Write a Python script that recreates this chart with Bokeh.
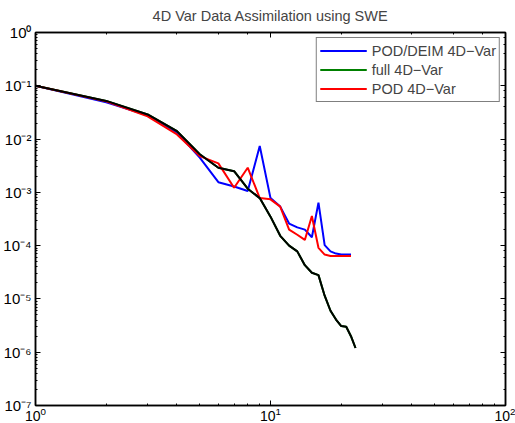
from bokeh.plotting import figure
from bokeh.models import LogAxis, Legend, LegendItem, Range1d, LogTicker, CustomJSTickFormatter
from bokeh.embed import file_html
from bokeh.resources import INLINE

x_full = list(range(1, 24))
full_4dvar = [0.1, 0.052, 0.029, 0.0141, 0.0052, 0.0029, 0.0025, 0.00117, 7.8e-4, 3.5e-4,
              1.53e-4, 1.0e-4, 7.8e-5, 4.3e-5, 3.1e-5, 2.8e-5, 1.15e-5, 6.0e-6, 4.1e-6,
              3.1e-6, 3.0e-6, 2.0e-6, 1.2e-6]

x_red = list(range(1, 23))
pod_deim = [0.1, 0.049, 0.028, 0.0132, 0.0045, 1.55e-3, 1.29e-3, 1.06e-3, 7.4e-3, 7.8e-4,
            5.4e-4, 2.6e-4, 2.2e-4, 2.0e-4, 1.44e-4, 6.4e-4, 1.02e-4, 7.8e-5, 7.1e-5,
            6.8e-5, 6.8e-5, 6.8e-5]
pod = [0.1, 0.051, 0.0267, 0.0122, 0.0048, 3.5e-3, 1.22e-3, 2.9e-3, 7.8e-4, 7.4e-4,
       5.4e-4, 2.0e-4, 1.6e-4, 1.28e-4, 3.6e-4, 9.1e-5, 6.8e-5, 6.4e-5, 6.4e-5,
       6.4e-5, 6.4e-5, 6.4e-5]

y_tick_exps = [0, -1, -2, -3, -4, -5, -6, -7]
y_tick_labels = ["10\u2070", "10\u207b\u00b9", "10\u207b\u00b2", "10\u207b\u00b3",
                 "10\u207b\u2074", "10\u207b\u2075", "10\u207b\u2076", "10\u207b\u2077"]

title = "4D Var Data Assimilation using SWE"
labels = ["POD/DEIM 4D\u2212Var", "full 4D\u2212Var", "POD 4D\u2212Var"]

FONT = "Liberation Sans"

p = figure(width=515, height=423, x_axis_type="log", y_axis_type="log",
           x_range=Range1d(1, 100), y_range=Range1d(1e-7, 1),
           output_backend="svg", toolbar_location=None,
           min_border_left=35, min_border_right=10, min_border_top=31, min_border_bottom=15)

p.title.text = title
p.title.align = "center"
p.title.text_font = FONT
p.title.text_font_size = "14.5px"
p.title.text_font_style = "normal"
p.title.offset = 0
p.title.standoff = 14
p.title.vertical_align = "top"

p.grid.visible = False
p.outline_line_color = "black"
p.outline_line_width = 1.5
p.background_fill_color = "white"
p.border_fill_color = "white"

for ax in [p.xaxis[0], p.yaxis[0]]:
    ax.major_tick_in = 5
    ax.major_tick_out = 0
    ax.minor_tick_in = 2
    ax.minor_tick_out = 0
    ax.axis_line_color = "black"
    ax.axis_line_width = 1.5
    ax.major_label_text_font = FONT
    ax.major_label_text_color = "black"
p.xaxis[0].major_label_text_font_size = "14px"
p.xaxis[0].major_label_standoff = 1

p.yaxis[0].formatter = CustomJSTickFormatter(
    args=dict(exps=y_tick_exps, labels=y_tick_labels),
    code="const e = Math.round(Math.log10(tick)); const i = exps.indexOf(e); return i >= 0 ? labels[i] : '';")
p.yaxis[0].major_label_text_font_size = "15px"
p.yaxis[0].major_label_text_baseline = "alphabetic"
p.yaxis[0].major_label_standoff = 4

empty = CustomJSTickFormatter(code="return ''")
top = LogAxis(ticker=LogTicker(), formatter=empty, major_tick_in=5, major_tick_out=0,
              minor_tick_in=2, minor_tick_out=0, major_label_standoff=0,
              axis_line_width=1.5)
right = LogAxis(ticker=LogTicker(), formatter=empty, major_tick_in=5, major_tick_out=0,
                minor_tick_in=2, minor_tick_out=0, major_label_standoff=0,
                axis_line_width=1.5)
p.add_layout(top, "above")
p.add_layout(right, "right")

r_blue = p.line(x_red, pod_deim, line_color="#0000ff", line_width=2)
r_green = p.line(x_full, full_4dvar, line_color="#008000", line_width=2)
r_red = p.line(x_red, pod, line_color="#ff0000", line_width=2)
r_black = p.line(x_full, full_4dvar, line_color="black", line_width=2)

legend = Legend(items=[LegendItem(label=labels[0], renderers=[r_blue]),
                       LegendItem(label=labels[1], renderers=[r_green]),
                       LegendItem(label=labels[2], renderers=[r_red])],
                location="top_right")
legend.label_text_font = FONT
legend.label_text_font_size = "14.5px"
legend.glyph_width = 47
legend.glyph_height = 19
legend.label_height = 19
legend.label_standoff = 5
legend.spacing = 0
legend.padding = 3
legend.margin = 5
legend.border_line_color = "black"
legend.border_line_width = 1
legend.background_fill_alpha = 1
p.add_layout(legend, "center")

open("out.html", "w").write(file_html(p, INLINE))
